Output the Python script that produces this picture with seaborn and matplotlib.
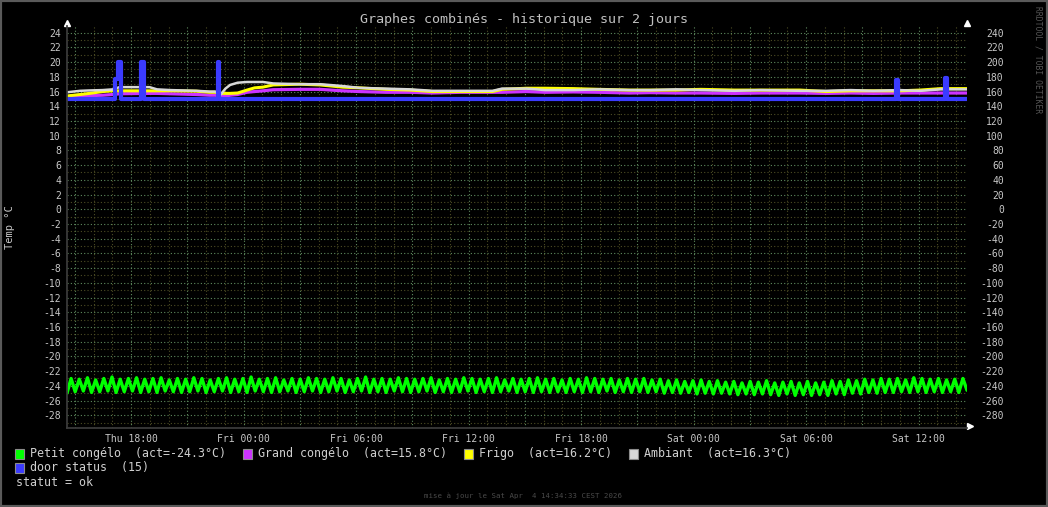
import numpy as np
import pandas as pd
import matplotlib
matplotlib.use('Agg')
import matplotlib.pyplot as plt
import matplotlib.dates as mdates
from matplotlib.ticker import MultipleLocator, FuncFormatter
from matplotlib.patches import Rectangle
import seaborn as sns

# --- donnees (heures depuis le debut de la fenetre) ---
debut = pd.Timestamp('2026-04-02 14:34:33')

# petit congelo : alternance creux / pic
petit_congelo = [
    -25.0,
    -23.0, -24.8, -23.1, -24.7, -22.9, -24.9, -23.2, -24.8, -23.0, -24.7, -22.8, -24.9, -23.1, -24.8, -23.0, -24.7, -22.9, -24.9, -23.1, -24.8,
    -23.0, -24.9, -22.9, -24.7, -23.2, -24.8, -23.0, -24.9, -23.1, -24.8, -22.9, -24.7, -23.0, -24.9, -23.2, -24.8, -23.0, -24.7, -22.9, -24.9,
    -23.1, -24.8, -23.0, -24.9, -22.8, -24.7, -23.1, -24.8, -23.0, -24.9, -22.9, -24.8, -23.2, -24.7, -23.0, -24.9, -23.1, -24.8, -22.9, -24.7,
    -23.0, -24.9, -23.1, -24.8, -22.9, -24.7, -23.0, -24.9, -23.2, -24.8, -23.0, -24.7, -22.8, -24.9, -23.1, -24.8, -23.0, -24.9, -23.1, -24.7,
    -22.9, -24.8, -23.0, -24.9, -23.1, -24.8, -23.0, -24.7, -22.9, -24.9, -23.2, -24.8, -23.0, -24.9, -23.1, -24.8, -22.9, -24.7, -23.0, -24.9,
    -23.1, -24.8, -23.0, -24.9, -22.9, -24.8, -23.2, -24.7, -23.0, -24.9, -23.1, -24.8, -23.0, -24.9, -22.9, -24.8, -23.1, -24.9, -23.0, -24.8,
    -23.2, -24.9, -23.0, -24.8, -23.1, -24.9, -22.9, -24.8, -23.0, -24.9, -23.1, -24.7, -23.0, -24.9, -23.2, -24.8, -23.0, -24.9, -23.1, -24.8,
    -23.0, -24.9, -23.2, -24.8, -23.1, -25.0, -23.3, -24.9, -23.2, -25.0, -23.4, -24.9, -23.3, -25.1, -23.2, -25.0, -23.4, -25.1, -23.3, -25.0,
    -23.5, -25.1, -23.4, -25.2, -23.6, -25.1, -23.4, -25.2, -23.5, -25.1, -23.3, -25.2, -23.6, -25.3, -23.5, -25.1, -23.4, -25.3, -23.6, -25.2,
    -23.4, -25.3, -23.6, -25.2, -23.5, -25.3, -23.3, -25.1, -23.4, -25.2, -23.2, -25.0, -23.3, -25.1, -23.1, -24.9, -23.2, -25.0, -23.0, -24.9,
    -23.1, -24.9, -23.0, -24.8, -23.2, -24.9, -22.9, -24.8, -23.0, -24.9, -23.1, -24.8, -23.0, -24.9, -23.2, -24.8, -23.1, -24.9, -23.0, -24.6,
]

t_capteurs = [0.0, 0.7, 1.2, 1.9, 2.45, 2.8, 4.4, 4.8, 5.5, 6.9, 7.6, 7.9, 8.2, 8.45, 8.7, 9.1,
              9.6, 10.0, 10.45, 11.0, 12.4, 13.5, 14.7, 15.6, 17.0, 18.3, 19.5, 21.0, 22.7, 23.2,
              24.5, 25.5, 27.0, 28.4, 30.0, 31.1, 32.5, 33.8, 35.6, 37.0, 39.1, 40.5, 41.8, 43.0,
              44.4, 45.5, 46.6, 48.0]
grand_congelo = [15.2, 15.3, 15.45, 15.5, 15.6, 15.7, 15.75, 15.75, 15.7, 15.6, 15.5, 15.5, 15.4, 15.4,
                 15.5, 15.6, 15.9, 16.0, 16.1, 16.25, 16.3, 16.3, 16.1, 16.0, 15.9, 15.9, 15.8, 15.9,
                 15.9, 15.9, 16.0, 15.9, 15.95, 15.9, 15.8, 15.85, 15.8, 15.8, 15.75, 15.8, 15.8, 15.75,
                 15.8, 15.75, 15.8, 15.8, 15.8, 15.8]
frigo = [15.4, 15.6, 15.75, 16.0, 16.1, 16.1, 16.1, 16.1, 16.1, 16.05, 15.9, 15.9, 15.75, 15.75,
         15.75, 15.8, 16.2, 16.5, 16.6, 16.9, 17.0, 16.9, 16.6, 16.5, 16.3, 16.2, 16.0, 16.0,
         16.0, 16.3, 16.45, 16.45, 16.4, 16.3, 16.2, 16.2, 16.2, 16.3, 16.2, 16.2, 16.2, 16.0,
         16.1, 16.1, 16.1, 16.2, 16.4, 16.4]
ambiant = [15.9, 16.1, 16.15, 16.2, 16.3, 16.6, 16.6, 16.3, 16.2, 16.1, 16.0, 16.0, 15.6, 16.4,
           16.9, 17.2, 17.3, 17.3, 17.3, 17.1, 17.0, 17.0, 16.75, 16.5, 16.4, 16.3, 16.1, 16.1,
           16.1, 16.4, 16.4, 16.2, 16.2, 16.3, 16.2, 16.2, 16.3, 16.2, 16.1, 16.2, 16.1, 16.1,
           16.2, 16.1, 16.2, 16.1, 16.3, 16.3]

# door status (axe de droite / 10)
t_porte = [0.0, 2.55, 2.72, 2.86, 3.96, 4.12, 8.04, 8.10, 44.22, 44.32, 46.83, 46.93, 48.0]
porte = [15, 17.7, 20, 15, 20, 15, 20, 15, 17.6, 15, 17.8, 15, 15]

legende = [
    ('Petit congélo  (act=-24.3°C)', '#00ff00', 15, 454),
    ('Grand congélo  (act=15.8°C)', '#cc33ff', 243, 454),
    ('Frigo  (act=16.2°C)', '#ffff00', 464, 454),
    ('Ambiant  (act=16.3°C)', '#d8d8d8', 629, 454),
    ('door status  (15)', '#3b3bff', 15, 468),
]


def heures(h):
    return pd.Series(debut + pd.to_timedelta(np.asarray(h, dtype=float), unit='h'))


sns.set_theme(style='dark', rc={'figure.facecolor': 'black', 'axes.facecolor': 'black',
                                'savefig.facecolor': 'black'})
plt.rcParams['font.family'] = ['DejaVu Sans Mono', 'DejaVu Sans']
plt.rcParams['axes.unicode_minus'] = False

W, H = 1048, 507
fig = plt.figure(figsize=(W / 100, H / 100), dpi=100)
x0, x1, y_top, y_bot = 67, 967, 26, 428
ax = fig.add_axes([x0 / W, 1 - y_bot / H, (x1 - x0) / W, (y_bot - y_top) / H])
ax.set_facecolor('black')

t_vert = heures(np.linspace(0, 48, len(petit_congelo)))
sns.lineplot(x=t_vert, y=petit_congelo, ax=ax, color='#00ff00', lw=2.4, estimator=None, sort=False,
             solid_joinstyle='round')
sns.lineplot(x=heures(t_capteurs), y=grand_congelo, ax=ax, color='#cc33ff', lw=2.3, estimator=None, sort=False)
sns.lineplot(x=heures(t_capteurs), y=frigo, ax=ax, color='#ffff00', lw=2.2, estimator=None, sort=False)
sns.lineplot(x=heures(t_capteurs), y=ambiant, ax=ax, color='#d8d8d8', lw=1.8, estimator=None, sort=False)
sns.lineplot(x=heures(t_porte), y=porte, ax=ax, color='#3b3bff', lw=3.0, estimator=None, sort=False,
             drawstyle='steps-post')

ax.set_xlim(debut, debut + pd.Timedelta(hours=48))
ylo, yhi = -29.73, 24.91
ax.set_ylim(ylo, yhi)

# grilles
mgrid, grid = '#5e8a5e', '#4c4c24'
ax.xaxis.set_major_locator(mdates.HourLocator(byhour=range(0, 24, 3)))
ax.xaxis.set_minor_locator(mdates.HourLocator())
ax.xaxis.set_major_formatter(FuncFormatter(
    lambda v, p: mdates.num2date(v).strftime('%a %H:%M') if mdates.num2date(v).hour % 6 == 0 else ''))
ax.yaxis.set_major_locator(MultipleLocator(2))
ax.yaxis.set_minor_locator(MultipleLocator(1))
ax.grid(which='minor', color=grid, lw=0.8, ls=(0, (1, 2)))
ax.grid(which='major', color=mgrid, lw=0.8, ls=(0, (1, 2)))
ax.set_axisbelow(True)
ax.tick_params(axis='x', which='major', length=3, color='#5a5a5a', pad=1.5, labelsize=7, labelcolor='#c8c8c8')
ax.tick_params(axis='x', which='minor', length=2, color='#3a3a2a')
ax.tick_params(axis='y', which='both', length=0, pad=4.3, labelsize=7, labelcolor='#c8c8c8')
ax.set_xlabel('')
ax.set_ylabel('Temp °C', fontsize=7.5, color='#c8c8c8', va='center', ha='center')
ax.yaxis.set_label_coords((10 - x0) / (x1 - x0), (y_bot - 227) / (y_bot - y_top))
for s in ax.spines.values():
    s.set_visible(False)
ax.spines['left'].set_visible(True)
ax.spines['bottom'].set_visible(True)
ax.spines['left'].set_color('#3c3c3c')
ax.spines['bottom'].set_color('#3c3c3c')

# axe de droite (x10)
ax2 = ax.twinx()
ax2.set_ylim(ylo * 10, yhi * 10)
ax2.set_yticks(np.arange(-280, 241, 20))
ax2.grid(False)
ax2.tick_params(axis='y', length=0, pad=26.6, labelsize=7, labelcolor='#c8c8c8')
plt.setp(ax2.get_yticklabels(), ha='right')
for s in ax2.spines.values():
    s.set_visible(False)

# fleches des axes
ax.plot([0, 1], [1.0075, 1.0075], ls='none', marker='^', ms=4, color='white', transform=ax.transAxes, clip_on=False)
ax.plot([1.0035], [0.004], ls='none', marker='>', ms=4, color='white', transform=ax.transAxes, clip_on=False)

# textes
fig.text(0.5, 1 - 19 / H, 'Graphes combinés - historique sur 2 jours', ha='center', va='center',
         fontsize=9.6, color='#c0c0c0')
fig.text(1038 / W, 1 - 60 / H, 'RRDTOOL / TOBI OETIKER', rotation=270, ha='center', va='center',
         fontsize=5.8, color='#555555')
fig.text(523 / W, 1 - 496 / H, 'mise à jour le Sat Apr  4 14:34:33 CEST 2026', ha='center', va='center',
         fontsize=5.3, color='#4a4a4a')

for txt, col, lx, ly in legende:
    fig.add_artist(Rectangle((lx / W, 1 - (ly + 5) / H), 8.5 / W, 10 / H, transform=fig.transFigure,
                             facecolor=col, edgecolor='#8c8c8c', lw=0.8))
    fig.text((lx + 15) / W, 1 - ly / H, txt, ha='left', va='center', fontsize=8.4, color='#d0d0d0')
fig.text(16 / W, 1 - 482 / H, 'statut = ok', ha='left', va='center', fontsize=8.4, color='#d0d0d0')

fig.add_artist(Rectangle((0, 0), 1, 1, transform=fig.transFigure, fill=False, edgecolor='#5a5a5a', lw=3))

fig.savefig('out.png', dpi=100, facecolor='black')
